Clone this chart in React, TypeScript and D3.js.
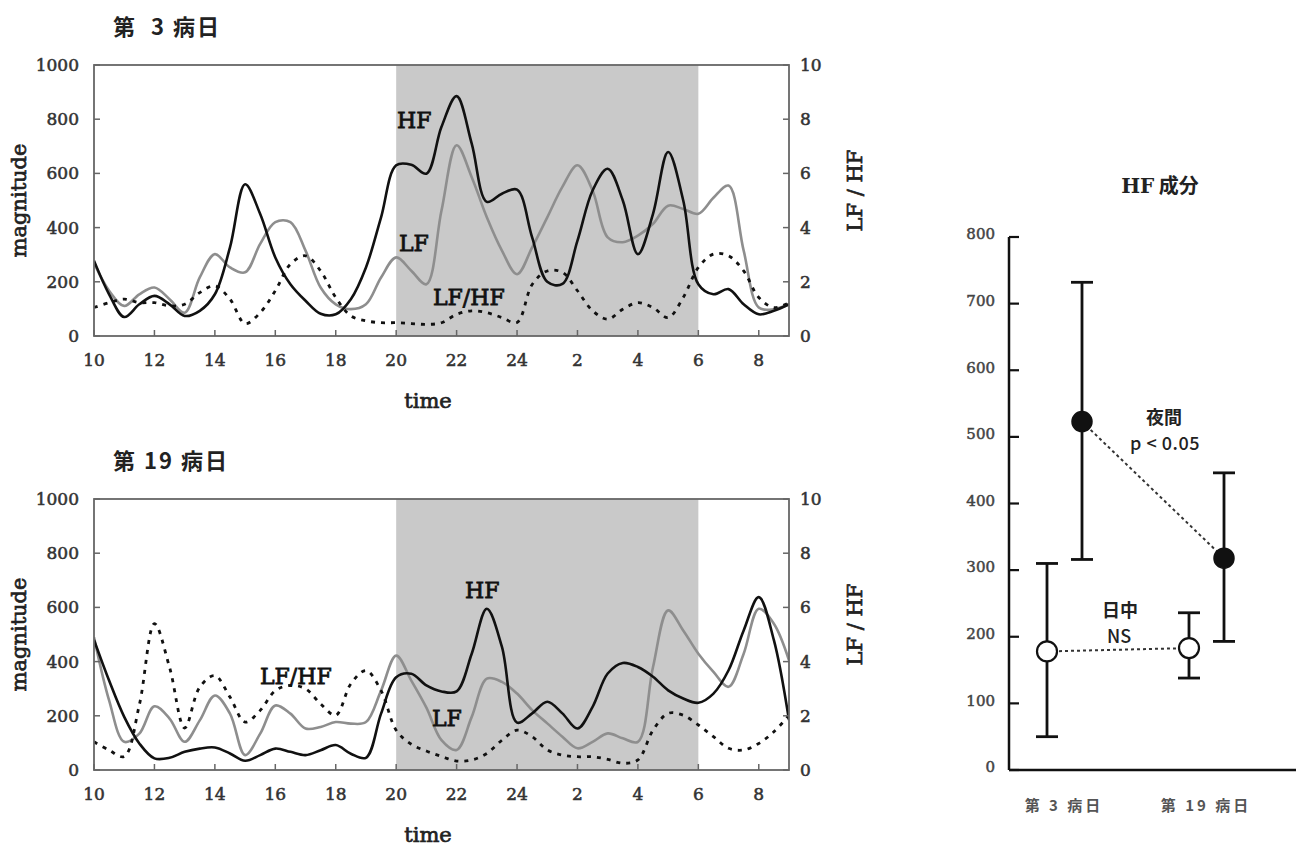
import React from 'react';
import * as d3 from 'd3';

// clock hours, 10:00 of day 1 to 9:00 of day 2 (24 = midnight)
const hours = [
  10, 10.5, 11, 11.5, 12, 12.5, 13, 13.5, 14, 14.5, 15, 15.5, 16, 16.5, 17, 17.5,
  18, 18.5, 19, 19.5, 20, 20.5, 21, 21.5, 22, 22.5, 23, 23.5, 24, 24.5, 25, 25.5,
  26, 26.5, 27, 27.5, 28, 28.5, 29, 29.5, 30, 30.5, 31, 31.5, 32, 32.5, 33,
];

// 第3病日
const hf3 = [
  278, 154, 70, 117, 148, 117, 74, 93, 154, 327, 560, 450, 290, 191, 130, 82,
  80, 136, 253, 438, 630, 632, 599, 772, 885, 710, 495, 525, 540, 364, 200, 192,
  352, 537, 617, 500, 302, 451, 679, 500, 191, 154, 173, 117, 80, 93, 117,
];
const lf3 = [
  270, 167, 111, 154, 179, 136, 86, 216, 302, 253, 235, 340, 420, 420, 315, 179,
  117, 99, 117, 216, 290, 241, 191, 463, 704, 586, 438, 315, 228, 327, 438, 550,
  630, 537, 364, 346, 370, 414, 481, 469, 451, 510, 555, 315, 105, 99, 117,
];
const ratio3 = [
  1.05, 1.23, 1.36, 1.23, 1.23, 1.11, 1.17, 1.6, 1.85, 1.36, 0.46, 0.86, 1.67, 2.65, 2.96, 2.4,
  1.42, 0.74, 0.56, 0.49, 0.49, 0.46, 0.43, 0.49, 0.8, 0.93, 0.86, 0.68, 0.5, 1.9, 2.4, 2.35,
  1.67, 0.93, 0.62, 0.99, 1.23, 1.05, 0.68, 1.42, 2.53, 3.02, 2.96, 2.4, 1.42, 1.05, 1.23,
];

// 第19病日
const hf19 = [
  480, 330, 196, 98, 43, 45, 67, 79, 83, 61, 34, 55, 79, 67, 55, 73,
  92, 60, 45, 208, 342, 355, 312, 290, 290, 429, 595, 454, 175, 209, 252, 209,
  153, 233, 356, 395, 380, 344, 294, 264, 248, 282, 368, 515, 638, 479, 184,
];
const lf19 = [
  490, 257, 104, 134, 235, 190, 104, 183, 275, 208, 55, 134, 238, 208, 153, 159,
  177, 171, 177, 293, 422, 330, 230, 110, 74, 196, 337, 325, 282, 221, 172, 123,
  80, 104, 135, 117, 104, 380, 589, 515, 429, 362, 307, 429, 595, 540, 405,
];
const ratio19 = [
  1.04, 0.73, 0.5, 2.4, 5.4, 3.79, 1.55, 3.06, 3.48, 2.69, 1.77, 2.2, 2.93, 3.12, 3.0, 2.44,
  2.02, 3.18, 3.67, 2.93, 1.47, 0.95, 0.7, 0.5, 0.33, 0.37, 0.61, 1.1, 1.47, 1.23, 0.74, 0.55,
  0.49, 0.49, 0.39, 0.25, 0.37, 1.47, 2.09, 2.02, 1.66, 1.23, 0.8, 0.74, 0.98, 1.41, 2.02,
];

const timeTicks = [10, 12, 14, 16, 18, 20, 22, 24, 26, 28, 30, 32];
const magTicks = [0, 200, 400, 600, 800, 1000];
const ratioTicks = [0, 2, 4, 6, 8, 10];
const night = [20, 30];

// HF成分 summary
const days = ['第 3 病日', '第 19 病日'];
const dayMean = [178, 183];
const dayLo = [50, 138];
const dayHi = [310, 236];
const nightMean = [523, 318];
const nightLo = [316, 193];
const nightHi = [732, 446];
const hfTicks = [0, 100, 200, 300, 400, 500, 600, 700, 800];

const serif = '"DejaVu Serif", "Liberation Serif", serif';
const cjk = '"Noto Sans CJK JP", "Noto Sans", sans-serif';

// regular serif thickened a little, like the scanned print
const ink = (c: string, w = 0.55) => ({ fill: c, stroke: c, strokeWidth: w });

type PanelProps = {
  top: number;
  title: string;
  hf: number[];
  lf: number[];
  ratio: number[];
  labels: { text: string; x: number; y: number }[];
};

function Panel({ top, title, hf, lf, ratio, labels }: PanelProps) {
  const left = 94, right = 789, bottom = top + 271;
  const x = d3.scaleLinear().domain([10, 33]).range([left, right]);
  const y = d3.scaleLinear().domain([0, 1000]).range([bottom, top]);
  const yR = d3.scaleLinear().domain([0, 10]).range([bottom, top]);
  const line = (sc: d3.ScaleLinear<number, number>) =>
    d3.line<number>()
      .x((_, i) => x(hours[i]))
      .y(d => sc(d))
      .curve(d3.curveCatmullRom.alpha(0.5));
  const frame = '#666';

  return (
    <g>
      <text x={113} y={top - 30} fontFamily={cjk} fontWeight={700} fontSize={22} letterSpacing={2}
        style={{ whiteSpace: 'pre' }} fill="#222">{title}</text>
      <rect x={x(night[0])} y={top} width={x(night[1]) - x(night[0])} height={bottom - top} fill="#c9c9c9" />
      <defs>
        <clipPath id={'clip' + top}>
          <rect x={left} y={top} width={right - left} height={bottom - top} />
        </clipPath>
      </defs>
      <g clipPath={`url(#clip${top})`}>
        <path d={line(y)(lf) || ''} fill="none" stroke="#8e8e8e" strokeWidth={2.6} />
        <path d={line(yR)(ratio) || ''} fill="none" stroke="#111" strokeWidth={2.8} strokeDasharray="4,6" />
        <path d={line(y)(hf) || ''} fill="none" stroke="#111" strokeWidth={2.6} />
      </g>
      <rect x={left} y={top} width={right - left} height={bottom - top} fill="none" stroke={frame} strokeWidth={1.8} />
      {magTicks.map(t => (
        <g key={'m' + t}>
          <line x1={left} x2={left + 6} y1={y(t)} y2={y(t)} stroke={frame} strokeWidth={1.5} />
          <text x={79} y={y(t)} dy="0.35em" textAnchor="end" fontFamily={serif} fontSize={17} {...ink('#333')}>{t}</text>
        </g>
      ))}
      {ratioTicks.map(t => (
        <g key={'r' + t}>
          <line x1={right - 6} x2={right} y1={yR(t)} y2={yR(t)} stroke={frame} strokeWidth={1.5} />
          <text x={800} y={yR(t)} dy="0.35em" textAnchor="start" fontFamily={serif} fontSize={17} {...ink('#333')}>{t}</text>
        </g>
      ))}
      {timeTicks.map(t => (
        <g key={'t' + t}>
          <line x1={x(t)} x2={x(t)} y1={bottom} y2={bottom - 6} stroke={frame} strokeWidth={1.5} />
          <text x={x(t)} y={bottom + 30} textAnchor="middle" fontFamily={serif} fontSize={17} {...ink('#333')}>
            {t > 24 ? t - 24 : t}
          </text>
        </g>
      ))}
      <text x={428} y={bottom + 72} textAnchor="middle" fontFamily={serif} fontSize={21} {...ink('#222', 0.7)}>time</text>
      <text transform={`translate(26,${(top + bottom) / 2}) rotate(-90)`} textAnchor="middle"
        fontFamily={serif} fontSize={21} {...ink('#222', 0.7)}>magnitude</text>
      <text transform={`translate(855,${(top + bottom) / 2 - 10}) rotate(-90)`} textAnchor="middle"
        dy="0.35em" fontFamily={serif} fontSize={21} {...ink('#222', 0.7)}>LF / HF</text>
      {labels.map(l => (
        <text key={l.text} x={l.x} y={l.y} fontFamily={serif} fontSize={22} {...ink('#111', 0.8)}>{l.text}</text>
      ))}
    </g>
  );
}

function Summary() {
  const y = d3.scaleLinear().domain([0, 800]).range([770, 237]);
  const xc = d3.scalePoint<string>().domain(days).range([1064, 1206]);
  const axisX = 1009;
  const r = 10;
  const cap = 11;
  const bar = (cx: number, lo: number, hi: number, k: string) => (
    <g key={k} stroke="#111" strokeWidth={2.8}>
      <line x1={cx} x2={cx} y1={y(lo)} y2={y(hi)} />
      <line x1={cx - cap} x2={cx + cap} y1={y(lo)} y2={y(lo)} />
      <line x1={cx - cap} x2={cx + cap} y1={y(hi)} y2={y(hi)} />
    </g>
  );
  const dx = (d: string) => (xc(d) as number);
  return (
    <g>
      <text x={1160} y={193} textAnchor="middle" fontFamily={cjk} fontWeight={700} fontSize={20} fill="#222">
        <tspan fontFamily={serif}>HF</tspan> 成分
      </text>
      <line x1={axisX} x2={axisX} y1={y(800)} y2={y(0)} stroke="#111" strokeWidth={2.5} />
      <line x1={axisX} x2={1296} y1={y(0)} y2={y(0)} stroke="#111" strokeWidth={2.5} />
      {hfTicks.map(t => (
        <g key={t}>
          <line x1={axisX} x2={axisX + 10} y1={y(t)} y2={y(t)} stroke="#111" strokeWidth={2.2} />
          <text x={995} y={y(t) - 3} dy="0.35em" textAnchor="end" fontFamily={serif} fontSize={15} {...ink('#444', 0.5)}>{t}</text>
        </g>
      ))}
      {days.map((d, i) => bar(dx(d) - 17, dayLo[i], dayHi[i], 'd' + i))}
      {days.map((d, i) => bar(dx(d) + 18, nightLo[i], nightHi[i], 'n' + i))}
      <line x1={dx(days[0]) + 18} x2={dx(days[1]) + 18} y1={y(nightMean[0])} y2={y(nightMean[1])}
        stroke="#333" strokeWidth={2} strokeDasharray="3,3" />
      <line x1={dx(days[0]) - 17} x2={dx(days[1]) - 17} y1={y(dayMean[0])} y2={y(dayMean[1])}
        stroke="#333" strokeWidth={2} strokeDasharray="3,3" />
      {days.map((d, i) => (
        <circle key={'dc' + i} cx={dx(d) - 17} cy={y(dayMean[i])} r={r} fill="#fff" stroke="#111" strokeWidth={2.2} />
      ))}
      {days.map((d, i) => (
        <circle key={'nc' + i} cx={dx(d) + 18} cy={y(nightMean[i])} r={r} fill="#111" stroke="#111" strokeWidth={1.5} />
      ))}
      <text x={1164} y={424} textAnchor="middle" fontFamily={cjk} fontWeight={700} fontSize={18} fill="#222">夜間</text>
      <text x={1165} y={450} textAnchor="middle" fontFamily={cjk} fontWeight={500} fontSize={18} letterSpacing={0.5}
        style={{ whiteSpace: 'pre' }} fill="#222">p &lt; 0.05</text>
      <text x={1120} y={617} textAnchor="middle" fontFamily={cjk} fontWeight={700} fontSize={18} fill="#222">日中</text>
      <text x={1119} y={643} textAnchor="middle" fontFamily={cjk} fontWeight={500} fontSize={18} fill="#222">NS</text>
      {days.map(d => (
        <text key={d} x={dx(d)} y={811} textAnchor="middle" fontFamily={cjk} fontWeight={700} fontSize={15}
          letterSpacing={3} style={{ whiteSpace: 'pre' }} fill="#555">{d}</text>
      ))}
    </g>
  );
}

export default function App() {
  return (
    <svg width={1300} height={850} style={{ position: 'absolute', left: 0, top: 0, background: '#fff' }}>
      <rect width={1300} height={850} fill="#fff" />
      <Panel top={65} title={'第  3 病日'} hf={hf3} lf={lf3} ratio={ratio3}
        labels={[{ text: 'HF', x: 397, y: 128 }, { text: 'LF', x: 399, y: 251 }, { text: 'LF/HF', x: 433, y: 305 }]} />
      <Panel top={499} title={'第 19 病日'} hf={hf19} lf={lf19} ratio={ratio19}
        labels={[{ text: 'HF', x: 465, y: 598 }, { text: 'LF', x: 432, y: 726 }, { text: 'LF/HF', x: 260, y: 684 }]} />
      <Summary />
    </svg>
  );
}
